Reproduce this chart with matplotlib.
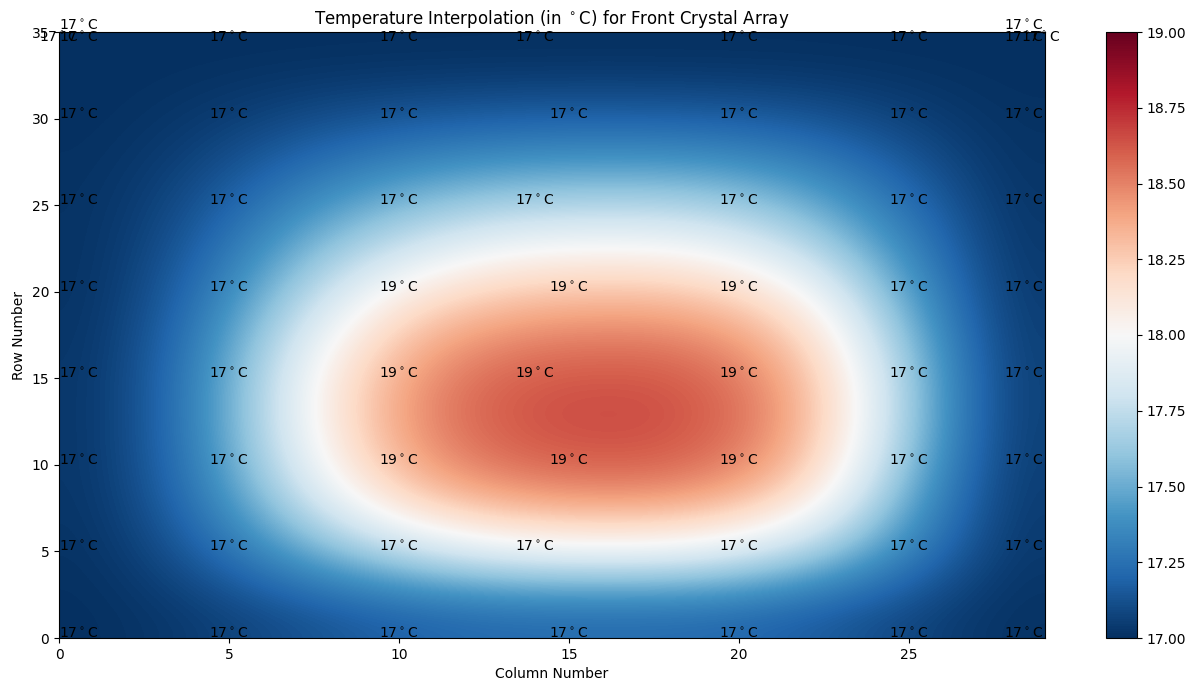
import matplotlib
matplotlib.use("Agg")
import matplotlib.pyplot as plt
import numpy as np

# sensor readings (label positions and rounded values)
sensor_x = [0, 4.4, 9.4, 14.4, 19.4, 24.4, 27.8,
            0, 4.4, 9.4, 13.4, 19.4, 24.4, 27.8,
            0, 4.4, 9.4, 14.4, 19.4, 24.4, 27.8,
            0, 4.4, 9.4, 13.4, 19.4, 24.4, 27.8,
            0, 4.4, 9.4, 14.4, 19.4, 24.4, 27.8,
            0, 4.4, 9.4, 13.4, 19.4, 24.4, 27.8,
            0, 4.4, 9.4, 14.4, 19.4, 24.4, 27.8,
            -0.6, 0, 4.4, 9.4, 13.4, 19.4, 24.4, 27.8, 28.3,
            0, 27.8]
sensor_y = [0] * 7 + [5] * 7 + [10] * 7 + [15] * 7 + [20] * 7 + [25] * 7 + [30] * 7 \
    + [34.4] * 9 + [35.1] * 2
sensor_temp = [17, 17, 17, 17, 17, 17, 17,
               17, 17, 17, 17, 17, 17, 17,
               17, 17, 19, 19, 19, 17, 17,
               17, 17, 19, 19, 19, 17, 17,
               17, 17, 19, 19, 19, 17, 17,
               17, 17, 17, 17, 17, 17, 17,
               17, 17, 17, 17, 17, 17, 17,
               17, 17, 17, 17, 17, 17, 17, 17, 17,
               17, 17]

# interpolated temperature field, coarse grid (rows bottom -> top)
field = np.array([
    [17.00, 17.05, 17.12, 17.18, 17.21, 17.21, 17.21, 17.17, 17.09, 17.01],
    [17.01, 17.20, 17.52, 17.80, 17.98, 18.02, 17.99, 17.78, 17.40, 17.03],
    [17.02, 17.32, 17.85, 18.33, 18.50, 18.55, 18.52, 18.30, 17.60, 17.04],
    [17.02, 17.36, 17.99, 18.46, 18.64, 18.68, 18.65, 18.43, 17.74, 17.05],
    [17.02, 17.35, 17.96, 18.42, 18.59, 18.62, 18.60, 18.38, 17.72, 17.05],
    [17.01, 17.28, 17.75, 18.18, 18.34, 18.38, 18.36, 18.15, 17.55, 17.04],
    [17.01, 17.19, 17.52, 17.78, 17.95, 17.99, 17.96, 17.75, 17.38, 17.03],
    [17.01, 17.11, 17.30, 17.45, 17.53, 17.55, 17.54, 17.44, 17.22, 17.02],
    [17.00, 17.04, 17.11, 17.16, 17.19, 17.20, 17.19, 17.16, 17.08, 17.01],
    [17.00, 17.00, 17.00, 17.00, 17.00, 17.00, 17.00, 17.00, 17.00, 17.00],
])

fig = plt.figure(figsize=(11.95, 6.85), dpi=100)
ax = fig.add_axes([59 / 1195, 47 / 685, 986 / 1195, 606 / 685])
cax = fig.add_axes([1106 / 1195, 47 / 685, 31 / 1195, 606 / 685])

im = ax.imshow(field, origin='lower', extent=(0, 29, 0, 35), aspect='auto',
               cmap='RdBu_r', vmin=17, vmax=19, interpolation='bicubic')

for x, y, t in zip(sensor_x, sensor_y, sensor_temp):
    ax.text(x, y, '%d$^\\circ$C' % t, fontsize=10)

ax.set_xlim(0, 29)
ax.set_ylim(0, 35)
ax.set_title('Temperature Interpolation (in $^\\circ$C) for Front Crystal Array')
ax.set_xlabel('Column Number')
ax.set_ylabel('Row Number')

cb = fig.colorbar(im, cax=cax)
cb.set_ticks(np.arange(17, 19.01, 0.25))
cb.ax.set_yticklabels(['%.2f' % v for v in np.arange(17, 19.01, 0.25)])

fig.savefig('out.png', dpi=100)
